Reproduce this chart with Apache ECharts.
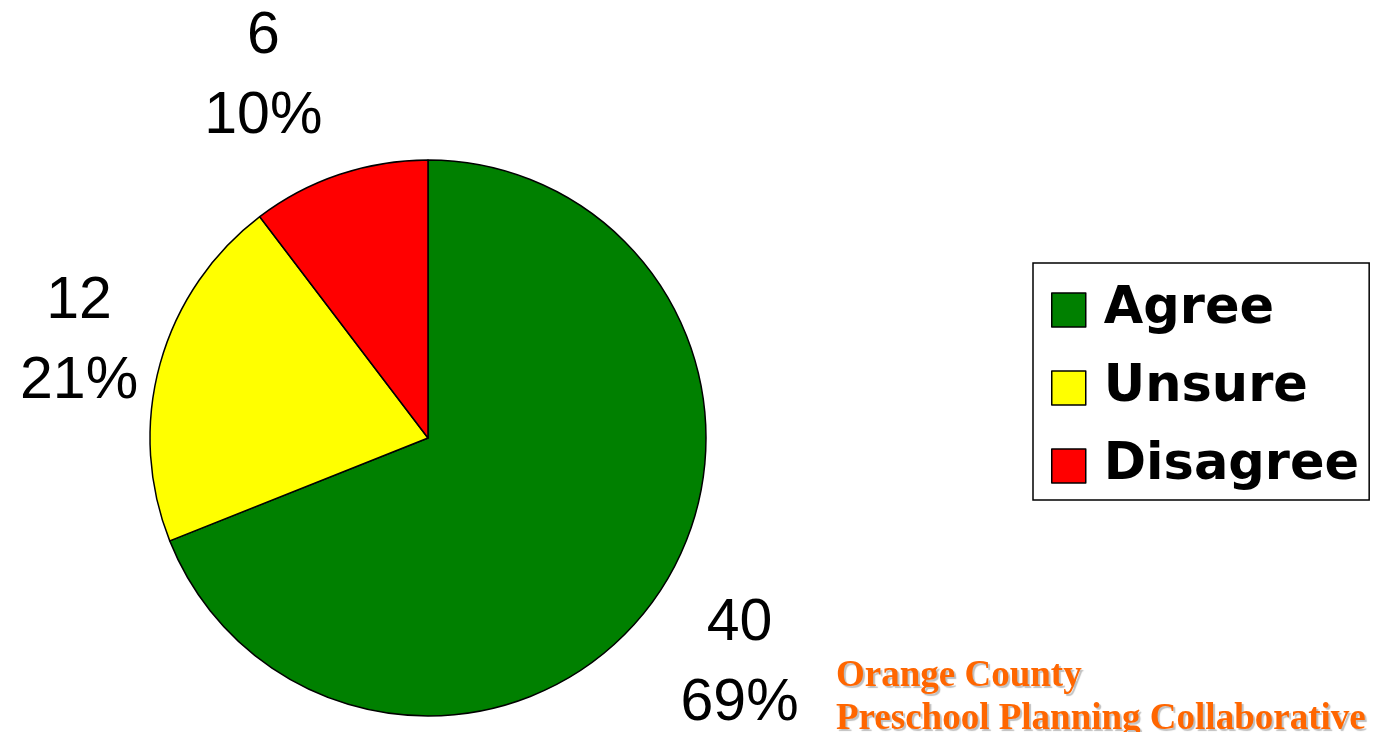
<!DOCTYPE html>
<html>
<head>
<meta charset="utf-8">
<script src="https://cdn.jsdelivr.net/npm/echarts@6/dist/echarts.min.js"></script>
<style>
  html, body { margin: 0; padding: 0; background: #fff; }
  #main { width: 1375px; height: 732px; }
</style>
</head>
<body>
<div id="main"></div>
<script>
// categories and counts
const categories = ['Agree', 'Unsure', 'Disagree'];
const counts = [40, 12, 6];
const colors = ['#008000', '#ffff00', '#ff0000'];
// label leader lengths (hidden lines) so the labels sit where the original has them
const leadLen = [125, 81, 103];
const leadLen2 = [-22, 3, 43];

let myChart = echarts.init(document.getElementById('main'));

let pieData = categories.map((name, i) => ({
  name: name,
  value: counts[i],
  itemStyle: { color: colors[i] },
  labelLine: { show: false, length: leadLen[i], length2: leadLen2[i] }
}));

let option = {
  animation: false,
  backgroundColor: '#fff',
  legend: {
    orient: 'vertical',
    left: 1033,
    top: 263,
    padding: [21, 10, 8, 18],
    itemGap: 26,
    itemWidth: 34,
    itemHeight: 34,
    icon: 'rect',
    borderColor: '#000',
    borderWidth: 1.5,
    data: categories,
    itemStyle: { borderColor: '#000', borderWidth: 1.5 },
    textStyle: {
      fontFamily: 'DejaVu Sans',
      fontWeight: 'bold',
      fontSize: 51,
      lineHeight: 52,
      color: '#000',
      padding: [0, 0, 0, 13]
    }
  },
  graphic: [
    {
      type: 'text',
      left: 836,
      top: 655,
      style: {
        text: 'Orange County\nPreschool Planning Collaborative',
        font: 'bold 37px "Liberation Serif"',
        lineHeight: 43,
        fill: '#ff6600',
        textShadowColor: 'rgba(0,0,0,0.25)',
        textShadowOffsetX: 2,
        textShadowOffsetY: 2,
        textShadowBlur: 1
      }
    }
  ],
  series: [
    {
      type: 'pie',
      center: [428, 438],
      radius: 278,
      startAngle: 90,
      clockwise: true,
      percentPrecision: 0,
      avoidLabelOverlap: false,
      itemStyle: { borderColor: '#000', borderWidth: 1.5 },
      label: {
        show: true,
        position: 'outside',
        distanceToLabelLine: 0,
        formatter: '{c}\n{d}%',
        fontFamily: 'Liberation Sans',
        fontSize: 59,
        lineHeight: 80,
        color: '#000'
      },
      labelLayout: { align: 'center' },
      emphasis: { disabled: true },
      data: pieData
    }
  ]
};

myChart.setOption(option);
</script>
</body>
</html>
